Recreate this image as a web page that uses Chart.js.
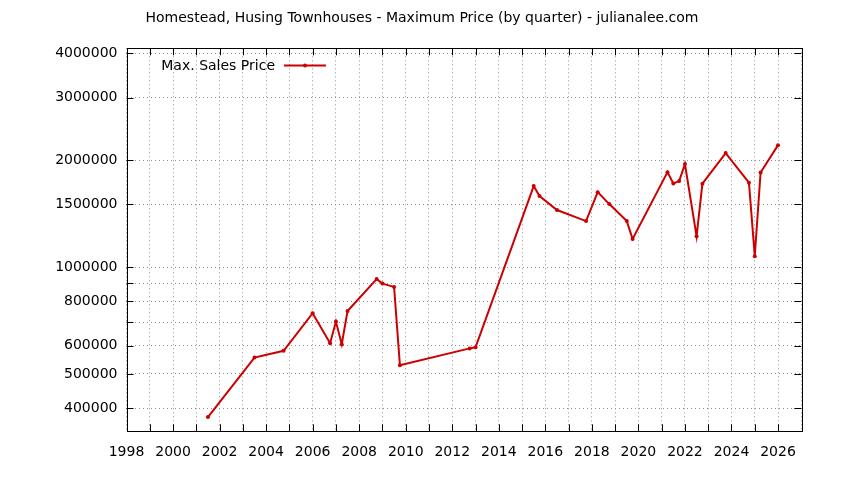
<!DOCTYPE html>
<html>
<head>
<meta charset="utf-8">
<script src="https://cdn.jsdelivr.net/npm/chart.js@4/dist/chart.umd.min.js"></script>
<style>
  html, body { margin: 0; padding: 0; background: #ffffff; }
  #wrap { width: 844px; height: 480px; position: relative; }
</style>
</head>
<body>
<div id="wrap"><canvas id="c" width="844" height="480"></canvas></div>
<script>
const chartTitle = "Homestead, Husing Townhouses - Maximum Price (by quarter) - julianalee.com";
const seriesName = "Max. Sales Price";

const quarters = [
  2001.5, 2003.5, 2004.75, 2006.0, 2006.75, 2007.0, 2007.25, 2007.5,
  2008.75, 2009.0, 2009.5, 2009.75, 2012.75, 2013.0, 2015.5, 2015.75,
  2016.5, 2017.75, 2018.25, 2018.75, 2019.5, 2019.75, 2021.25, 2021.5,
  2021.75, 2022.0, 2022.5, 2022.75, 2023.75, 2024.75, 2025.0, 2025.25, 2026.0
];
const maxPrices = [
  378000, 556000, 581000, 741000, 610000, 702000, 606000, 752000,
  925000, 898000, 879000, 529000, 590000, 594000, 1690000, 1584000,
  1447000, 1347000, 1625000, 1504000, 1347000, 1199000, 1850000, 1720000,
  1746000, 1949000, 1220000, 1716000, 2093000, 1727000, 1072000, 1846000, 2204000
];

const yTickValues = [400000, 500000, 600000, 700000, 800000, 900000, 1000000, 1500000, 2000000, 3000000, 4000000];
const yTickLabels = ["400000", "500000", "600000", "", "800000", "", "1000000", "1500000", "2000000", "3000000", "4000000"];
const xMin = 1998, xMax = 2027;
const yMin = 344600, yMax = 4130000;

const FONT = "'DejaVu Sans', sans-serif";
const lineColor = "#cc0000";

const framePlugin = {
  id: "frame",
  afterDatasetsDraw(chart) {
    const ctx = chart.ctx;
    const a = chart.chartArea;
    const xs = chart.scales.x, ys = chart.scales.y;
    ctx.save();
    ctx.setLineDash([]);
    ctx.strokeStyle = "#000000";
    ctx.lineWidth = 1;
    ctx.beginPath();
    for (let yr = xMin + 1; yr < xMax; yr++) {
      const px = Math.round(xs.getPixelForValue(yr)) + 0.5;
      ctx.moveTo(px, a.bottom); ctx.lineTo(px, a.bottom - 7);
      ctx.moveTo(px, a.top); ctx.lineTo(px, a.top + 7);
    }
    for (const v of yTickValues) {
      const py = Math.round(ys.getPixelForValue(v)) + 0.5;
      ctx.moveTo(a.left, py); ctx.lineTo(a.left + 7, py);
      ctx.moveTo(a.right, py); ctx.lineTo(a.right - 7, py);
    }
    ctx.stroke();
    ctx.strokeRect(Math.round(a.left) + 0.5, Math.round(a.top) + 0.5,
                   Math.round(a.right - a.left), Math.round(a.bottom - a.top));
    ctx.fillStyle = "#000000";
    ctx.font = "14px " + FONT;
    ctx.textAlign = "center";
    ctx.textBaseline = "middle";
    ctx.fillText(chartTitle, 422, 18);
    ctx.textAlign = "right";
    ctx.fillText(seriesName, 275, 66);
    ctx.strokeStyle = lineColor;
    ctx.lineWidth = 2;
    ctx.beginPath();
    ctx.moveTo(284, 65.5); ctx.lineTo(326, 65.5);
    ctx.stroke();
    ctx.fillStyle = lineColor;
    ctx.beginPath();
    ctx.arc(305, 65.5, 2, 0, Math.PI * 2);
    ctx.fill();
    ctx.restore();
  }
};

new Chart(document.getElementById("c"), {
  type: "line",
  data: {
    datasets: [{
      label: seriesName,
      data: quarters.map((q, i) => ({ x: q, y: maxPrices[i] })),
      borderColor: lineColor,
      backgroundColor: lineColor,
      borderWidth: 2,
      pointRadius: 2,
      pointHoverRadius: 2,
      pointBorderWidth: 0,
      tension: 0,
      fill: false
    }]
  },
  options: {
    responsive: false,
    animation: false,
    events: [],
    layout: { padding: { left: 0, right: 42.7, top: 48.3, bottom: 0 } },
    plugins: { legend: { display: false }, title: { display: false }, tooltip: { enabled: false } },
    scales: {
      x: {
        type: "linear",
        min: xMin, max: xMax,
        afterFit(s) { s.height = 480 - 431.3; },
        afterBuildTicks(s) {
          const t = [];
          for (let yr = xMin; yr <= xMax; yr++) t.push({ value: yr });
          s.ticks = t;
        },
        ticks: {
          autoSkip: false, maxRotation: 0,
          color: "#000000", font: { family: FONT, size: 14 }, padding: 13,
          callback: (v) => (v % 2 === 0 && v < xMax) ? String(v) : ""
        },
        grid: { color: "#909090", lineWidth: 1, drawTicks: false, tickLength: 0 },
        border: { display: false, color: "#000000", width: 1, dash: [1, 3] }
      },
      y: {
        type: "logarithmic",
        min: yMin, max: yMax,
        afterFit(s) { s.width = 126.5; },
        afterBuildTicks(s) { s.ticks = yTickValues.map(v => ({ value: v })); },
        ticks: {
          autoSkip: false,
          color: "#000000", font: { family: FONT, size: 14 }, padding: 9,
          callback: function (v) { const i = yTickValues.indexOf(v); return i >= 0 ? yTickLabels[i] : ""; }
        },
        grid: { color: "#909090", lineWidth: 1, drawTicks: false, tickLength: 0 },
        border: { display: false, color: "#000000", width: 1, dash: [1, 3] }
      }
    }
  },
  plugins: [framePlugin]
});
</script>
</body>
</html>
